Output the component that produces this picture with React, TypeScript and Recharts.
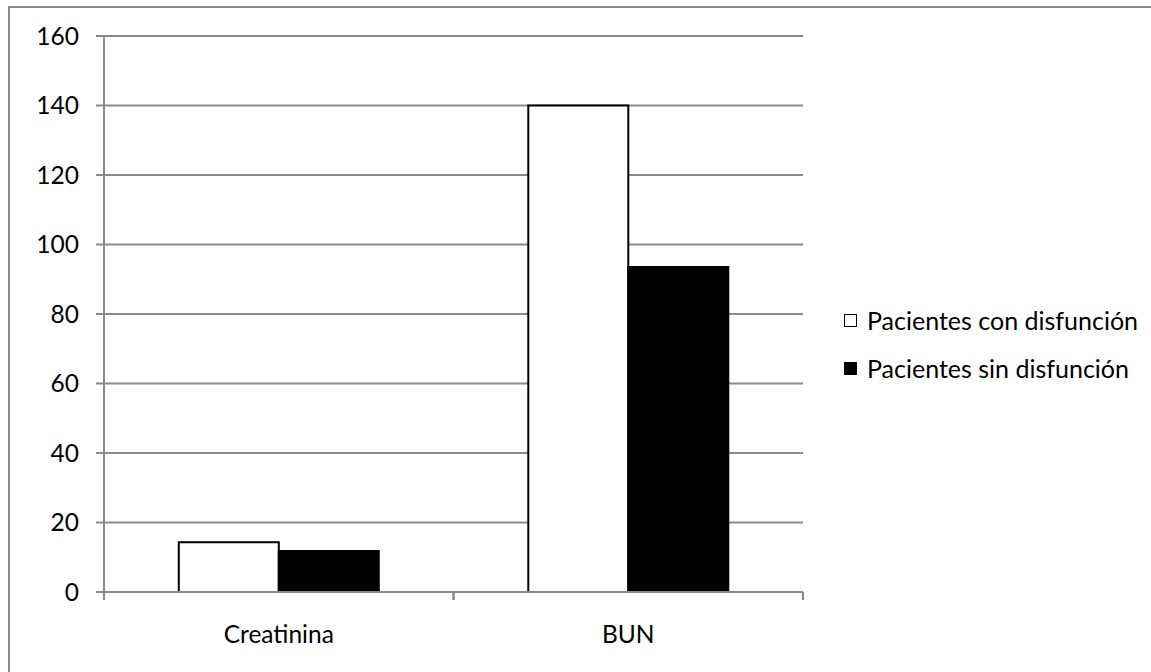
import { BarChart, Bar, XAxis, YAxis, CartesianGrid } from "recharts"

const categories = ["Creatinina", "BUN"]
const conDisfuncion = [14.3, 140]
const sinDisfuncion = [11.8, 93.5]
const yTicks = [0, 20, 40, 60, 80, 100, 120, 140, 160]

const SERIES = [
  { key: "con", name: "Pacientes con disfunción", fill: "#ffffff", stroke: "#000000" },
  { key: "sin", name: "Pacientes sin disfunción", fill: "#000000", stroke: "#000000" },
]

const data = categories.map((name, i) => ({
  name,
  con: conDisfuncion[i],
  sin: sinDisfuncion[i],
}))

const FONT = "Lato, sans-serif"
const GRAY = "#8a8a8a"
const X_TICK_SIZE = 8
const X_TICK_MARGIN = 26

// category label plus tick marks on both band edges (ticks fall between categories)
function CategoryTick(props: any) {
  const { x, y, payload } = props
  const half = payload?.offset ?? 0
  const axisY = y - X_TICK_SIZE - X_TICK_MARGIN
  return (
    <g>
      <line x1={x - half} x2={x - half} y1={axisY} y2={axisY + X_TICK_SIZE} stroke={GRAY} strokeWidth={2} />
      <line x1={x + half} x2={x + half} y1={axisY} y2={axisY + X_TICK_SIZE} stroke={GRAY} strokeWidth={2} />
      <text x={x} y={y} dy="0.71em" textAnchor="middle" fill="#000" fontSize={24.5} fontFamily={FONT}>
        {payload.value}
      </text>
    </g>
  )
}

function LegendBox() {
  return (
    <div
      style={{
        position: "absolute",
        left: 844,
        top: 296,
        fontFamily: FONT,
        fontSize: 25,
        color: "#000",
      }}
    >
      {SERIES.map((s) => (
        <div key={s.key} style={{ display: "flex", alignItems: "center", height: 48 }}>
          <span
            style={{
              display: "inline-block",
              width: 11,
              height: 11,
              background: s.fill,
              border: "1px solid #000",
              marginRight: 10,
            }}
          />
          <span>{s.name}</span>
        </div>
      ))}
    </div>
  )
}

export default function App() {
  return (
    <div style={{ position: "absolute", left: 0, top: 0, width: 1151, height: 672, background: "#fff", overflow: "hidden" }}>
      <div
        style={{
          position: "absolute",
          left: 8,
          top: 6,
          width: 1200,
          height: 700,
          borderTop: `2px solid ${GRAY}`,
          borderLeft: `2px solid ${GRAY}`,
        }}
      />
      <div style={{ position: "absolute", left: 0, top: 0 }}>
        <BarChart
          width={1151}
          height={672}
          data={data}
          margin={{ top: 36, right: 348, bottom: 0, left: 44 }}
          barCategoryGap="21.4%"
          barGap={0}
        >
          <CartesianGrid vertical={false} stroke={GRAY} strokeWidth={2} />
          <XAxis
            dataKey="name"
            height={80}
            axisLine={{ stroke: GRAY, strokeWidth: 2 }}
            tickLine={false}
            tickSize={X_TICK_SIZE}
            tickMargin={X_TICK_MARGIN}
            tick={<CategoryTick />}
          />
          <YAxis
            width={60}
            domain={[0, 160]}
            ticks={yTicks}
            interval={0}
            axisLine={{ stroke: GRAY, strokeWidth: 2 }}
            tickSize={8}
            tickLine={{ stroke: GRAY, strokeWidth: 2 }}
            tickMargin={17}
            tick={{ fill: "#000", fontSize: 24.5, fontFamily: FONT }}
          />
          {SERIES.map((s) => (
            <Bar
              key={s.key}
              dataKey={s.key}
              name={s.name}
              fill={s.fill}
              stroke={s.stroke}
              strokeWidth={2}
              isAnimationActive={false}
            />
          ))}
        </BarChart>
      </div>
      <LegendBox />
    </div>
  )
}
